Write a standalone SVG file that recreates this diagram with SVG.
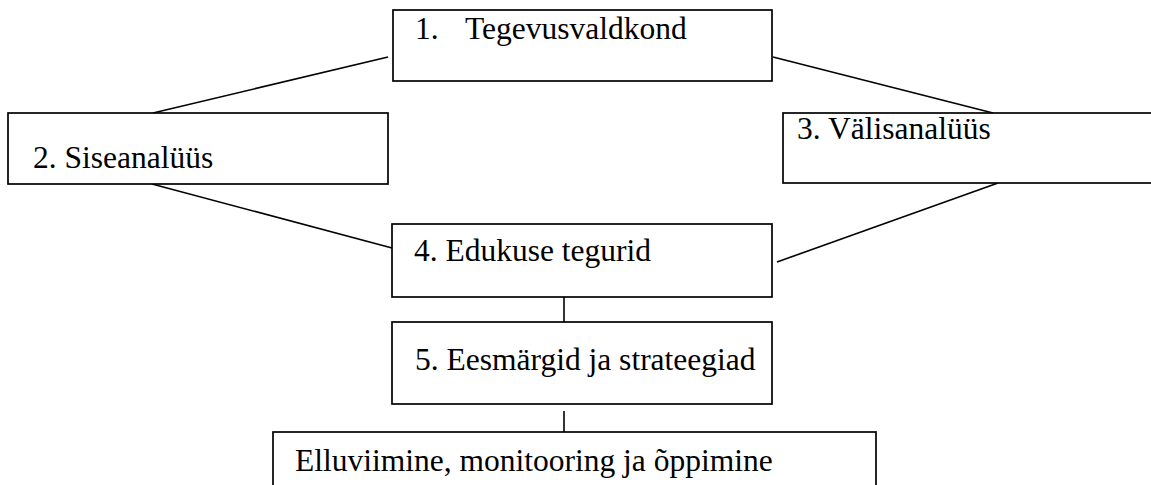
<svg xmlns="http://www.w3.org/2000/svg" width="1151" height="485" viewBox="0 0 1151 485">
  <style>
    .box { fill: #ffffff; stroke: #000000; stroke-width: 1.7; }
    .link { stroke: #000000; stroke-width: 1.6; fill: none; }
    .label { font-family: "Liberation Serif", "Times New Roman", serif; font-size: 31.5px; fill: #000000; }
  </style>
  <rect width="1151" height="485" fill="#ffffff"/>

  <!-- connectors -->
  <g id="connectors">
    <line class="link" x1="388" y1="57" x2="153" y2="113"/>
    <line class="link" x1="773" y1="57" x2="993" y2="113"/>
    <line class="link" x1="152" y1="184" x2="392" y2="248"/>
    <line class="link" x1="998" y1="183" x2="777" y2="262"/>
    <line class="link" x1="564" y1="297" x2="564" y2="322"/>
    <line class="link" x1="564" y1="411" x2="564" y2="432"/>
  </g>

  <g id="node1">
    <rect class="box" x="393" y="10" width="379" height="71"/>
    <text class="label" y="39"><tspan x="415">1.</tspan><tspan x="465">Tegevusvaldkond</tspan></text>
  </g>

  <g id="node2">
    <rect class="box" x="8" y="113" width="380" height="71"/>
    <text class="label" x="33" y="168">2. Siseanalüüs</text>
  </g>

  <g id="node3">
    <rect class="box" x="783" y="113" width="380" height="70"/>
    <text class="label" x="797" y="139">3. Välisanalüüs</text>
  </g>

  <g id="node4">
    <rect class="box" x="392" y="224" width="380" height="73"/>
    <text class="label" x="414" y="261">4. Edukuse tegurid</text>
  </g>

  <g id="node5">
    <rect class="box" x="392" y="322" width="380" height="82"/>
    <text class="label" x="415" y="370">5. Eesmärgid ja strateegiad</text>
  </g>

  <g id="node6">
    <rect class="box" x="273" y="432" width="603" height="70"/>
    <text class="label" x="295" y="471">Elluviimine, monitooring ja õppimine</text>
  </g>
</svg>
